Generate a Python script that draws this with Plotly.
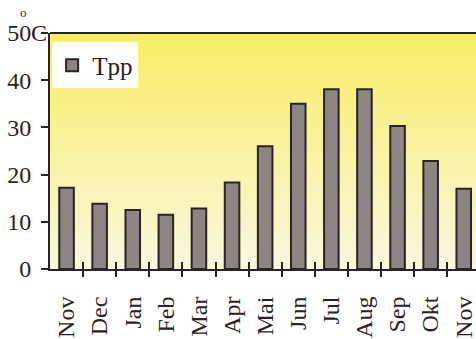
import plotly.graph_objects as go

months = ["Nov", "Dec", "Jan", "Feb", "Mar", "Apr", "Mai", "Jun", "Jul", "Aug", "Sep", "Okt", "Nov"]
tpp = [17.2, 13.8, 12.5, 11.5, 12.8, 18.3, 26.0, 35.0, 38.1, 38.1, 30.3, 22.9, 17.0]
y_ticks = [0, 10, 20, 30, 40, 50]
series_name = "Tpp"

idx = list(range(len(months)))
boundaries = [i + 0.5 for i in idx[:-1]]
xr = [-0.5, 12.37]

FONT = "Liberation Serif"
DARK = "#2b2323"
BARC = "#8d8484"

fig = go.Figure()
fig.add_trace(go.Bar(
    x=idx, y=tpp, name=series_name, width=0.44, showlegend=False,
    marker=dict(color=BARC, line=dict(color=DARK, width=2)),
    xaxis="x", yaxis="y",
))
# legend entry with a large square swatch
fig.add_trace(go.Scatter(x=[None], y=[None], mode="markers", name=series_name,
                         marker=dict(symbol="square", size=15, color=BARC,
                                     line=dict(color=DARK, width=2)),
                         xaxis="x", yaxis="y"))
for ax in ["x2", "x3"]:
    fig.add_trace(go.Scatter(x=idx, y=tpp, mode="markers", marker=dict(opacity=0),
                             showlegend=False, hoverinfo="skip", xaxis=ax, yaxis="y"))

# gradient background bands
top = (247, 238, 100)
bot = (250, 247, 222)
n = 60
for i in range(n):
    t = i / (n - 1)
    c = tuple(round(bot[k] + (top[k] - bot[k]) * t) for k in range(3))
    fig.add_shape(type="rect", xref="paper", yref="paper", x0=0, x1=1,
                  y0=i / n, y1=(i + 1) / n + 0.002, line=dict(width=0),
                  fillcolor="rgb(%d,%d,%d)" % c, layer="below")
fig.add_shape(type="line", xref="paper", yref="paper", x0=0, x1=1, y0=1, y1=1,
              line=dict(color=DARK, width=2))

fig.add_annotation(text="o", xref="paper", yref="paper", x=-0.063, y=1.085,
                   xanchor="center", yanchor="middle", showarrow=False,
                   font=dict(family=FONT, size=13, color=DARK))
fig.add_annotation(text="C", xref="paper", yref="paper", x=-0.025, y=1.0,
                   xanchor="center", yanchor="middle", showarrow=False,
                   font=dict(family=FONT, size=24, color=DARK))

fig.update_layout(
    width=476, height=339,
    margin=dict(l=50, r=0, t=33, b=70, autoexpand=False),
    paper_bgcolor="white", plot_bgcolor="rgb(249,244,170)",
    font=dict(family=FONT, color=DARK),
    showlegend=True,
    legend=dict(x=0.005, y=0.96, xanchor="left", yanchor="top",
                bgcolor="white", borderwidth=0,
                font=dict(family=FONT, size=25, color=DARK),
                itemsizing="constant"),
    xaxis=dict(range=xr, tickvals=idx, ticktext=months, tickangle=-90,
               ticks="", showline=True, linecolor=DARK, linewidth=2,
               automargin=False, ticklabelstandoff=16, ticklabeloverflow="allow",
               tickfont=dict(family=FONT, size=24, color=DARK), showgrid=False,
               zeroline=False, fixedrange=True),
    xaxis2=dict(range=xr, overlaying="x", side="bottom", tickvals=boundaries,
                ticks="outside", ticklen=7, tickwidth=2, tickcolor=DARK,
                automargin=False,
                showticklabels=False, showgrid=False, zeroline=False, showline=False),
    xaxis3=dict(range=xr, overlaying="x", side="bottom", tickvals=boundaries,
                ticks="inside", ticklen=7, tickwidth=2, tickcolor=DARK,
                automargin=False,
                showticklabels=False, showgrid=False, zeroline=False, showline=False),
    yaxis=dict(range=[0, 50], tickvals=y_ticks, ticks="outside", ticklen=7,
               tickwidth=2, tickcolor=DARK, showline=True, linecolor=DARK,
               linewidth=2, showgrid=False, zeroline=False, automargin=False,
               ticklabelstandoff=5,
               tickfont=dict(family=FONT, size=24, color=DARK)),
)

fig.write_html("out.html", config={"displayModeBar": False},
               post_script="document.body.style.margin='0';document.body.style.overflow='hidden';")
